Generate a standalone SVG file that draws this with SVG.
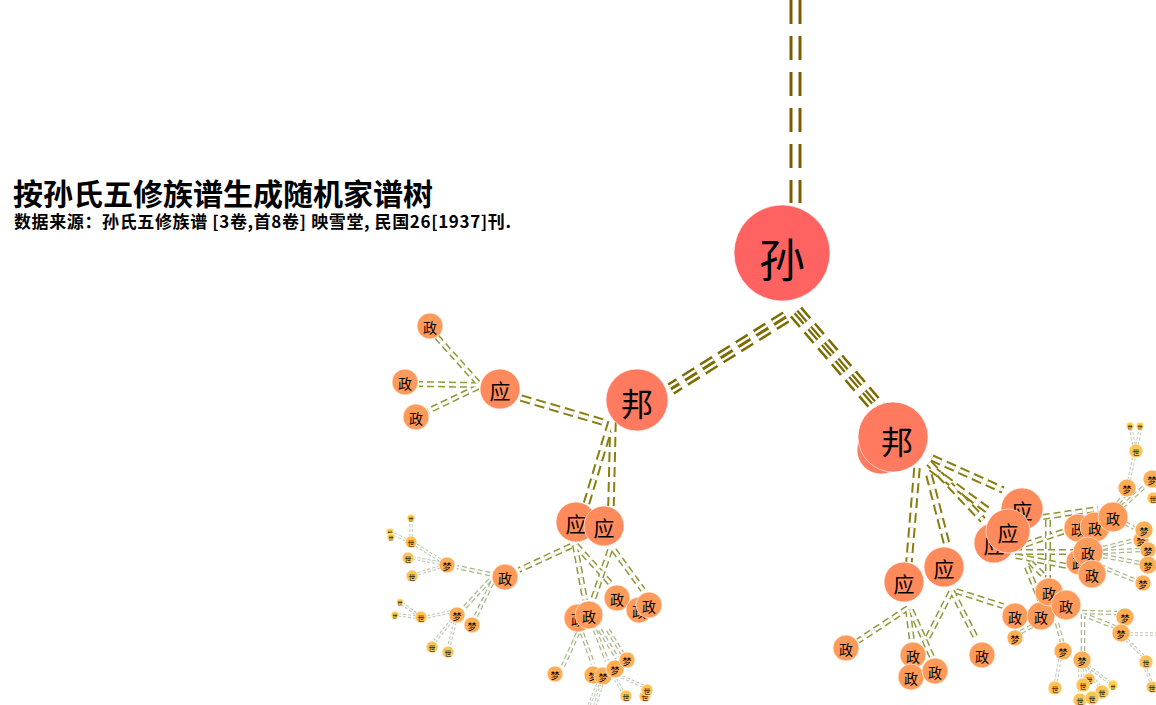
<svg xmlns="http://www.w3.org/2000/svg" xmlns:xlink="http://www.w3.org/1999/xlink" width="1156" height="705" viewBox="0 0 1156 705">
<style>
text{font-family:"Noto Sans CJK SC","Noto Sans",sans-serif;fill:#000;text-anchor:middle;dominant-baseline:central}
.title{font-size:30px;font-weight:bold;text-anchor:start;dominant-baseline:auto}
.sub{font-size:17px;font-weight:bold;text-anchor:start;dominant-baseline:auto}
circle{stroke:#fff;stroke-opacity:0.6;stroke-width:1}
.c0{fill:#ff6361}.c1{fill:#ff7a5e}.c2{fill:#ff8a5c}.c3{fill:#ff9b5a}.c4{fill:#ffae55}.c5{fill:#ffc453}.c6{fill:#ffd04f}
.f0{font-size:46px}.f1{font-size:32px}.f2{font-size:21px}.f3{font-size:14px}.f4{font-size:9px}.f5{font-size:7px}.f6{font-size:5px}
</style>
<defs>
<g id="E0"><path d="M795.5,0 V203"/></g>
<g id="E1a"><path d="M786,317 L671,389"/></g>
<g id="E1b"><path d="M796,312 L880,410"/></g>
<g id="E2">
<path d="M521,398 L606,423"/><path d="M611,422 L586,505"/><path d="M613,422 L611,506"/>
<path d="M917,468 L909,562"/><path d="M929,475 L947,545"/><path d="M932,458 L1003,490"/><path d="M929,463 L983,520"/><path d="M931,468 L990,512"/>
</g>
<g id="E3">
<path d="M478,383 L437,337"/><path d="M478,385 L419,384"/><path d="M478,387 L428,411"/>
<path d="M571,546 L519,570"/><path d="M575,545 L585,600"/><path d="M576,545 L610,583"/><path d="M610,550 L593,600"/><path d="M614,550 L643,590"/>
<path d="M908,608 L858,641"/><path d="M908,610 L912,641"/><path d="M911,610 L932,657"/>
<path d="M952,591 L977,640"/><path d="M951,592 L925,643"/><path d="M956,591 L1003,606"/>
<path d="M1043,517 L1098,509"/><path d="M1015,548 L1068,530"/><path d="M1015,552 L1073,552"/><path d="M1016,556 L1077,568"/><path d="M1048,520 L1048,578"/><path d="M1027,567 L1040,600"/><path d="M1030,562 L1060,592"/>
</g>
<g id="E4">
<path d="M490,574 L457,567"/><path d="M490,580 L464,608"/><path d="M492,583 L476,616"/>
<path d="M578,633 L563,666"/><path d="M582,633 L593,664"/><path d="M595,630 L607,661"/><path d="M600,630 L617,658"/><path d="M608,630 L622,653"/>
<path d="M1118,503 L1124,496"/><path d="M1122,507 L1145,486"/><path d="M1125,523 L1134,528"/><path d="M1103,548 L1135,540"/><path d="M1103,552 L1140,550"/><path d="M1103,556 L1140,563"/><path d="M1100,566 L1134,580"/>
<path d="M1082,612 L1117,613"/><path d="M1082,614 L1115,627"/><path d="M1083,614 L1083,651"/><path d="M1057,623 L1062,642"/><path d="M1032,626 L1021,632"/>
</g>
<g id="E5">
<path d="M440,560 L416,545"/><path d="M440,563 L413,558"/><path d="M440,567 L417,574"/><path d="M411,537 L411,522"/><path d="M406,540 L394,534"/>
<path d="M450,612 L427,617"/><path d="M452,620 L435,641"/><path d="M455,622 L449,646"/><path d="M416,614 L403,604"/><path d="M416,617 L399,615"/>
<path d="M602,684 L595,705"/><path d="M598,684 L589,705"/><path d="M613,675 L623,692"/><path d="M622,677 L643,686"/>
<path d="M1060,659 L1056,681"/><path d="M1082,669 L1083,678"/><path d="M1086,668 L1099,686"/><path d="M1088,666 L1110,683"/><path d="M1080,669 L1080,693"/>
<path d="M1130,634 L1156,634"/><path d="M1127,640 L1143,656"/><path d="M1146,669 L1151,682"/>
<path d="M1129,480 L1134,458"/><path d="M1134,445 L1131,430"/><path d="M1137,445 L1140,430"/>
</g>
</defs>
<g id="connectors" fill="none">
<use href="#E0" stroke="#7b5c00" stroke-width="12" stroke-dasharray="24 12"/>
<use href="#E0" stroke="#fff" stroke-width="6" stroke-dasharray="24 12"/>
<use href="#E1a" stroke="#7a6c00" stroke-width="13" stroke-dasharray="14 7"/>
<use href="#E1a" stroke="#fff" stroke-width="8" stroke-dasharray="14 7"/>
<use href="#E1a" stroke="#7a6c00" stroke-width="3" stroke-dasharray="14 7"/>
<use href="#E1b" stroke="#7a6c00" stroke-width="16" stroke-dasharray="14 7"/>
<use href="#E1b" stroke="#fff" stroke-width="11" stroke-dasharray="14 7"/>
<use href="#E1b" stroke="#7a6c00" stroke-width="6" stroke-dasharray="14 7"/>
<use href="#E1b" stroke="#fff" stroke-width="1.5" stroke-dasharray="14 7"/>
<use href="#E2" stroke="#8a7d10" stroke-width="7.5" stroke-dasharray="10 5"/>
<use href="#E2" stroke="#fff" stroke-width="3.5" stroke-dasharray="10 5"/>
<use href="#E3" stroke="#94963a" stroke-width="6" stroke-dasharray="7 4"/>
<use href="#E3" stroke="#fff" stroke-width="3" stroke-dasharray="7 4"/>
<use href="#E4" stroke="#a8b888" stroke-width="4.5" stroke-dasharray="5 3"/>
<use href="#E4" stroke="#fff" stroke-width="2" stroke-dasharray="5 3"/>
<use href="#E5" stroke="#bcc8b4" stroke-width="3.5" stroke-dasharray="3 2"/>
<use href="#E5" stroke="#fff" stroke-width="1.5" stroke-dasharray="3 2"/>
</g>
<g id="nodes">
<g id="sun"><circle class="c0" cx="782" cy="253" r="48"/><text class="f0" x="782" y="257">孙</text></g>
<g id="bang1"><circle class="c1" cx="637" cy="400" r="31"/><text class="f1" x="637" y="402">邦</text></g>
<g id="bang2a"><circle class="c1" cx="881" cy="450" r="24"/><text class="f2" x="879" y="451">邦</text></g>
<g id="bang2b"><circle class="c1" cx="893" cy="437" r="35"/><text class="f1" x="897" y="440">邦</text></g>
<g id="ying1"><circle class="c2" cx="500" cy="389" r="20"/><text class="f2" x="500" y="390">应</text></g>
<g id="ying2"><circle class="c2" cx="576" cy="522" r="20"/><text class="f2" x="576" y="523">应</text></g>
<g id="ying3"><circle class="c2" cx="604" cy="526" r="20"/><text class="f2" x="604" y="527">应</text></g>
<g id="ying4"><circle class="c2" cx="904" cy="582" r="20"/><text class="f2" x="904" y="583">应</text></g>
<g id="ying5"><circle class="c2" cx="944" cy="567" r="20"/><text class="f2" x="944" y="568">应</text></g>
<g id="ying6"><circle class="c2" cx="1022" cy="509" r="21"/><text class="f2" x="1022" y="510">应</text></g>
<g id="ying7"><circle class="c2" cx="994" cy="543" r="20"/><text class="f2" x="994" y="544">应</text></g>
<g id="ying8"><circle class="c2" cx="1008" cy="531" r="22"/><text class="f2" x="1008" y="532">应</text></g>
<g id="zheng1"><circle class="c3" cx="430" cy="326" r="13"/><text class="f3" x="430" y="327">政</text></g>
<g id="zheng2"><circle class="c3" cx="405" cy="382" r="13"/><text class="f3" x="405" y="383">政</text></g>
<g id="zheng3"><circle class="c3" cx="416" cy="417" r="13"/><text class="f3" x="416" y="418">政</text></g>
<g id="zheng4"><circle class="c3" cx="505" cy="577" r="13"/><text class="f3" x="505" y="578">政</text></g>
<g id="zheng5"><circle class="c3" cx="617" cy="598" r="13"/><text class="f3" x="617" y="599">政</text></g>
<g id="zheng6a"><circle class="c3" cx="578" cy="618" r="14"/><text class="f3" x="578" y="619">政</text></g>
<g id="zheng6b"><circle class="c3" cx="589" cy="615" r="14"/><text class="f3" x="589" y="616">政</text></g>
<g id="zheng7a"><circle class="c3" cx="639" cy="610" r="13"/><text class="f3" x="639" y="611">政</text></g>
<g id="zheng7b"><circle class="c3" cx="649" cy="605" r="13"/><text class="f3" x="649" y="606">政</text></g>
<g id="zheng8"><circle class="c3" cx="846" cy="648" r="13"/><text class="f3" x="846" y="649">政</text></g>
<g id="zheng9"><circle class="c3" cx="913" cy="655" r="13"/><text class="f3" x="913" y="656">政</text></g>
<g id="zheng10"><circle class="c3" cx="911" cy="677" r="13"/><text class="f3" x="911" y="678">政</text></g>
<g id="zheng11"><circle class="c3" cx="935" cy="671" r="13"/><text class="f3" x="935" y="672">政</text></g>
<g id="zheng12"><circle class="c3" cx="982" cy="655" r="13"/><text class="f3" x="982" y="656">政</text></g>
<g id="zheng13"><circle class="c3" cx="1015" cy="616" r="13"/><text class="f3" x="1015" y="617">政</text></g>
<g id="zheng14"><circle class="c3" cx="1041" cy="616" r="14"/><text class="f3" x="1041" y="617">政</text></g>
<g id="zheng15"><circle class="c3" cx="1049" cy="592" r="14"/><text class="f3" x="1049" y="593">政</text></g>
<g id="zheng16"><circle class="c3" cx="1066" cy="605" r="15"/><text class="f3" x="1066" y="606">政</text></g>
<g id="zheng17a"><circle class="c3" cx="1078" cy="528" r="14"/><text class="f3" x="1078" y="529">政</text></g>
<g id="zheng17b"><circle class="c3" cx="1095" cy="527" r="15"/><text class="f3" x="1095" y="528">政</text></g>
<g id="zheng18"><circle class="c3" cx="1113" cy="517" r="15"/><text class="f3" x="1113" y="518">政</text></g>
<g id="zheng19a"><circle class="c3" cx="1079" cy="562" r="13"/><text class="f3" x="1079" y="563">政</text></g>
<g id="zheng19b"><circle class="c3" cx="1088" cy="552" r="15"/><text class="f3" x="1088" y="553">政</text></g>
<g id="zheng20"><circle class="c3" cx="1092" cy="574" r="14"/><text class="f3" x="1092" y="575">政</text></g>
<g id="meng1"><circle class="c4" cx="447" cy="565" r="8"/><text class="f4" x="447" y="566">梦</text></g>
<g id="meng2"><circle class="c4" cx="457" cy="615" r="8"/><text class="f4" x="457" y="616">梦</text></g>
<g id="meng3"><circle class="c4" cx="472" cy="625" r="8"/><text class="f4" x="472" y="626">梦</text></g>
<g id="meng4"><circle class="c4" cx="555" cy="674" r="8"/><text class="f4" x="555" y="675">梦</text></g>
<g id="meng5a"><circle class="c4" cx="593" cy="675" r="9"/><text class="f4" x="593" y="676">梦</text></g>
<g id="meng5b"><circle class="c4" cx="603" cy="676" r="9"/><text class="f4" x="603" y="677">梦</text></g>
<g id="meng6"><circle class="c4" cx="615" cy="669" r="9"/><text class="f4" x="615" y="670">梦</text></g>
<g id="meng7"><circle class="c4" cx="627" cy="660" r="8"/><text class="f4" x="627" y="661">梦</text></g>
<g id="meng8"><circle class="c4" cx="1015" cy="638" r="8"/><text class="f4" x="1015" y="639">梦</text></g>
<g id="meng9"><circle class="c4" cx="1063" cy="651" r="9"/><text class="f4" x="1063" y="652">梦</text></g>
<g id="meng10"><circle class="c4" cx="1082" cy="660" r="9"/><text class="f4" x="1082" y="661">梦</text></g>
<g id="meng11"><circle class="c4" cx="1125" cy="617" r="9"/><text class="f4" x="1125" y="618">梦</text></g>
<g id="meng12"><circle class="c4" cx="1121" cy="633" r="9"/><text class="f4" x="1121" y="634">梦</text></g>
<g id="meng13"><circle class="c4" cx="1127" cy="488" r="9"/><text class="f4" x="1127" y="489">梦</text></g>
<g id="meng14"><circle class="c4" cx="1152" cy="479" r="9"/><text class="f4" x="1152" y="480">梦</text></g>
<g id="meng15a"><circle class="c4" cx="1141" cy="540" r="8"/><text class="f4" x="1141" y="541">梦</text></g>
<g id="meng15b"><circle class="c4" cx="1144" cy="530" r="9"/><text class="f4" x="1144" y="531">梦</text></g>
<g id="meng16"><circle class="c4" cx="1148" cy="550" r="8"/><text class="f4" x="1148" y="551">梦</text></g>
<g id="meng17"><circle class="c4" cx="1148" cy="565" r="9"/><text class="f4" x="1148" y="566">梦</text></g>
<g id="meng18"><circle class="c4" cx="1143" cy="583" r="8"/><text class="f4" x="1143" y="584">梦</text></g>
<g id="shi1"><circle class="c5" cx="411" cy="542" r="6"/><text class="f5" x="411" y="543">世</text></g>
<g id="shi2"><circle class="c5" cx="408" cy="558" r="6"/><text class="f5" x="408" y="559">世</text></g>
<g id="shi3"><circle class="c5" cx="412" cy="576" r="6"/><text class="f5" x="412" y="577">世</text></g>
<g id="shi4"><circle class="c5" cx="421" cy="617" r="6"/><text class="f5" x="421" y="618">世</text></g>
<g id="shi5"><circle class="c5" cx="432" cy="647" r="6"/><text class="f5" x="432" y="648">世</text></g>
<g id="shi6"><circle class="c5" cx="448" cy="652" r="6"/><text class="f5" x="448" y="653">世</text></g>
<g id="shi7"><circle class="c5" cx="626" cy="696" r="6"/><text class="f5" x="626" y="697">世</text></g>
<g id="shi8a"><circle class="c5" cx="645" cy="696" r="6"/><text class="f5" x="645" y="697">世</text></g>
<g id="shi8b"><circle class="c5" cx="647" cy="690" r="6"/><text class="f5" x="647" y="691">世</text></g>
<g id="shi9"><circle class="c5" cx="1055" cy="688" r="7"/><text class="f5" x="1055" y="689">世</text></g>
<g id="shi11"><circle class="c5" cx="1089" cy="679" r="6"/><text class="f5" x="1089" y="680">世</text></g>
<g id="shi10"><circle class="c5" cx="1083" cy="685" r="7"/><text class="f5" x="1083" y="686">世</text></g>
<g id="shi12"><circle class="c5" cx="1102" cy="692" r="7"/><text class="f5" x="1102" y="693">世</text></g>
<g id="shi13"><circle class="c5" cx="1080" cy="700" r="7"/><text class="f5" x="1080" y="701">世</text></g>
<g id="shi14"><circle class="c5" cx="1092" cy="698" r="7"/><text class="f5" x="1092" y="699">世</text></g>
<g id="shi15"><circle class="c6" cx="1113" cy="685" r="5"/><text class="f6" x="1113" y="686">世</text></g>
<g id="shi16"><circle class="c5" cx="1146" cy="662" r="7"/><text class="f5" x="1146" y="663">世</text></g>
<g id="shi17"><circle class="c5" cx="1152" cy="687" r="6"/><text class="f5" x="1152" y="688">世</text></g>
<g id="shi18"><circle class="c5" cx="1136" cy="451" r="7"/><text class="f5" x="1136" y="452">世</text></g>
<g id="shi19"><circle class="c5" cx="1153" cy="498" r="6"/><text class="f5" x="1153" y="499">世</text></g>
<g id="tiny1"><circle class="c6" cx="411" cy="518" r="4"/><text class="f6" x="411" y="518.5">世</text></g>
<g id="tiny2"><circle class="c6" cx="390" cy="532" r="4"/><text class="f6" x="390" y="532.5">世</text></g>
<g id="tiny3"><circle class="c6" cx="391" cy="537" r="4"/><text class="f6" x="391" y="537.5">世</text></g>
<g id="tiny4"><circle class="c6" cx="400" cy="602" r="3.5"/><text class="f6" x="400" y="602.5">世</text></g>
<g id="tiny5"><circle class="c6" cx="395" cy="615" r="4"/><text class="f6" x="395" y="615.5">世</text></g>
<g id="tiny6"><circle class="c6" cx="1130" cy="426" r="4"/><text class="f6" x="1130" y="426.5">世</text></g>
<g id="tiny7"><circle class="c6" cx="1140" cy="426" r="4"/><text class="f6" x="1140" y="426.5">世</text></g>
</g>
<g id="titles">
<text class="title" x="13" y="205">按孙氏五修族谱生成随机家谱树</text>
<text class="sub" x="14" y="228" textLength="497" lengthAdjust="spacing">数据来源：孙氏五修族谱 [3卷,首8卷] 映雪堂, 民国26[1937]刊.</text>
</g>
</svg>
